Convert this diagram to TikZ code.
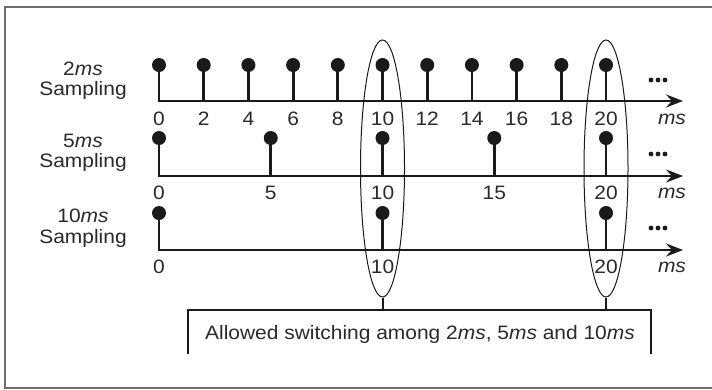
\documentclass[tikz,border=0pt]{standalone}
\usepackage{fontspec}
\setmainfont{Liberation Sans}[FakeStretch=1.08]
\usetikzlibrary{arrows.meta,shapes.geometric}
\definecolor{ink}{HTML}{1A1A1A}
\definecolor{txtink}{HTML}{2A2A2A}
\definecolor{framegray}{HTML}{6E6E6E}
\begin{document}
\begin{tikzpicture}[x=1pt,y=-1pt,
  txt/.style={font=\fontsize{19.4}{20}\selectfont, inner sep=0pt, anchor=base, text=txtink},
  stem/.style={line width=2.8pt, draw=ink},
  axisline/.style={line width=2.8pt, draw=ink, line join=miter, -{Stealth[length=17pt,width=13pt,inset=6pt]}},
  dotnode/.style={circle, fill=ink, minimum size=14pt, inner sep=0pt},
  moredot/.style={fill=ink},
  oval/.style={draw=ink, ellipse, line width=1pt, minimum width=44pt, minimum height=257pt, inner sep=0pt},
  boxline/.style={draw=ink, line width=2pt},
]
\useasboundingbox (0,0) rectangle (712,389);
% frame
\draw[framegray, line width=1.2pt] (713,7) -- (5,7) -- (5,388) -- (713,388);

% ---------- row 1 : 2 ms ----------
\node[txt] (r1a) at (83,75) {2\textit{ms}};
\node[txt] (r1b) at (83,95) {Sampling};
\coordinate (a1o) at (159,101);
\coordinate (a1e) at (683,101);
\foreach \t in {0,2,...,20} {
  \coordinate (a1t\t) at ({159+22.35*\t},101);
  \node[dotnode] (d1t\t) at ({159+22.35*\t},65) {};
  \node[txt] (l1t\t) at ({159+22.35*\t},125) {\t};
}
\foreach \t in {2,4,...,20} { \draw[stem] (a1t\t) -- (d1t\t.center); }
\draw[axisline] (d1t0.center) -- (a1o) -- (a1e);
\node[txt] (ms1) at (672,124) {\textit{ms}};
\foreach \dx in {-7,0,7} { \fill[moredot] (658+\dx,80) circle (2.4pt); }

% ---------- row 2 : 5 ms ----------
\node[txt] (r2a) at (83,147) {5\textit{ms}};
\node[txt] (r2b) at (83,167) {Sampling};
\coordinate (a2o) at (159,176);
\coordinate (a2e) at (683,176);
\foreach \t in {0,5,...,20} {
  \coordinate (a2t\t) at ({159+22.35*\t},176);
  \node[dotnode] (d2t\t) at ({159+22.35*\t},138) {};
  \node[txt] (l2t\t) at ({159+22.35*\t},199) {\t};
}
\foreach \t in {5,10,...,20} { \draw[stem] (a2t\t) -- (d2t\t.center); }
\draw[axisline] (d2t0.center) -- (a2o) -- (a2e);
\node[txt] (ms2) at (672,198) {\textit{ms}};
\foreach \dx in {-7,0,7} { \fill[moredot] (658+\dx,154) circle (2.4pt); }

% ---------- row 3 : 10 ms ----------
\node[txt] (r3a) at (83,222) {10\textit{ms}};
\node[txt] (r3b) at (83,243) {Sampling};
\coordinate (a3o) at (159,250);
\coordinate (a3e) at (683,250);
\foreach \t in {0,10,20} {
  \coordinate (a3t\t) at ({159+22.35*\t},250);
  \node[dotnode] (d3t\t) at ({159+22.35*\t},213) {};
  \node[txt] (l3t\t) at ({159+22.35*\t},273) {\t};
}
\foreach \t in {10,20} { \draw[stem] (a3t\t) -- (d3t\t.center); }
\draw[axisline] (d3t0.center) -- (a3o) -- (a3e);
\node[txt] (ms3) at (672,272) {\textit{ms}};
\foreach \dx in {-7,0,7} { \fill[moredot] (658+\dx,228) circle (2.4pt); }

% ---------- ovals ----------
\node[oval] (e1) at (382.5,168.5) {};
\node[oval] (e2) at (606,168.5) {};

% ---------- bottom box ----------
\node[txt] (note) at (420,339.5) {Allowed switching among 2\textit{ms}, 5\textit{ms} and 10\textit{ms}};
\coordinate (bl) at (188,354);
\coordinate (tl) at (188,310);
\coordinate (tr) at (651,310);
\coordinate (br) at (651,354);
\draw[boxline] (bl) -- (tl) -- (tr) -- (br);
\draw[boxline] (e1.south) -- (e1.south |- tl);
\draw[boxline] (e2.south) -- (e2.south |- tl);
\end{tikzpicture}
\end{document}
